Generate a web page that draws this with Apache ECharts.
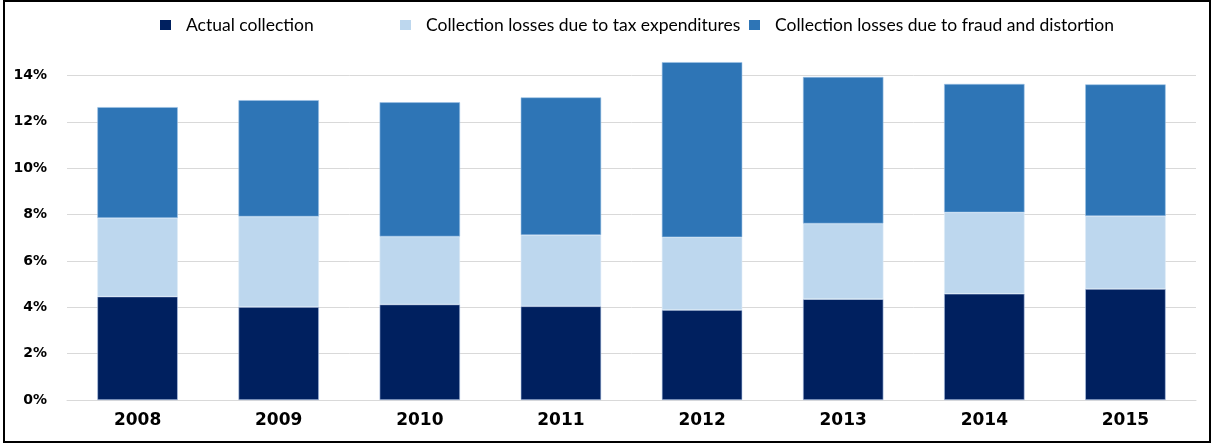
<!DOCTYPE html>
<html>
<head>
<meta charset="utf-8">
<script src="https://cdn.jsdelivr.net/npm/echarts@6/dist/echarts.min.js"></script>
<style>
  html, body { margin: 0; padding: 0; background: #fff; }
  #chart { width: 1214px; height: 445px; }
</style>
</head>
<body>
<div id="chart"></div>
<script>
// Years on the category axis
const years = ['2008', '2009', '2010', '2011', '2012', '2013', '2014', '2015'];

// Stacked shares of GDP, in percent
const actualCollection = [4.46, 4.01, 4.12, 4.04, 3.88, 4.35, 4.58, 4.79];
const taxExpenditureLosses = [3.39, 3.90, 2.93, 3.07, 3.14, 3.26, 3.51, 3.14];
const fraudDistortionLosses = [4.78, 5.02, 5.79, 5.94, 7.55, 6.32, 5.54, 5.68];

// Series names shown in the legend
const seriesNames = [
  'Actual collection',
  'Collection losses due to tax expenditures',
  'Collection losses due to fraud and distortion'
];

const colors = ['#00205F', '#BDD7EE', '#2E75B6'];

const chart = echarts.init(document.getElementById('chart'), null, { renderer: 'canvas' });

const legendBase = {
  top: 16,
  padding: 0,
  itemWidth: 11,
  itemHeight: 10,
  icon: 'rect',
  selectedMode: false,
  itemStyle: { borderWidth: 0 },
  textStyle: {
    fontFamily: 'Lato',
    fontSize: 17.5,
    color: '#000',
    padding: [2, 0, 0, 10]
  }
};

const option = {
  animation: false,
  backgroundColor: '#fff',
  color: colors,
  legend: [
    Object.assign({}, legendBase, { left: 160, data: [seriesNames[0]] }),
    Object.assign({}, legendBase, { left: 400, data: [seriesNames[1]] }),
    Object.assign({}, legendBase, { left: 749, data: [seriesNames[2]] })
  ],
  grid: { left: 67, right: 18, top: 29, bottom: 45, containLabel: false },
  xAxis: {
    type: 'category',
    data: years,
    axisLine: { show: true, lineStyle: { color: '#D9D9D9', width: 1 } },
    axisTick: { show: false },
    axisLabel: {
      margin: 12,
      fontFamily: 'DejaVu Sans',
      fontWeight: 'bold',
      fontSize: 17,
      color: '#000'
    }
  },
  yAxis: {
    type: 'value',
    min: 0,
    max: 16,
    interval: 2,
    axisLine: { show: false },
    axisTick: { show: false },
    splitLine: { show: true, showMaxLine: false, lineStyle: { color: '#D9D9D9', width: 1 } },
    axisLabel: {
      showMaxLabel: false,
      margin: 20,
      formatter: '{value}%',
      fontFamily: 'DejaVu Sans',
      fontWeight: 'bold',
      fontSize: 14,
      color: '#000'
    }
  },
  series: [
    {
      name: seriesNames[0], type: 'bar', stack: 'total', barWidth: '57%',
      data: actualCollection,
      itemStyle: { color: colors[0], borderColor: '#B4C7E7', borderWidth: 0.6 }
    },
    {
      name: seriesNames[1], type: 'bar', stack: 'total', barWidth: '57%',
      data: taxExpenditureLosses,
      itemStyle: { color: colors[1], borderColor: '#DEEBF7', borderWidth: 0.6 }
    },
    {
      name: seriesNames[2], type: 'bar', stack: 'total', barWidth: '57%',
      data: fraudDistortionLosses,
      itemStyle: { color: colors[2], borderColor: '#9DC3E6', borderWidth: 0.6 }
    }
  ],
  graphic: [
    {
      type: 'rect',
      silent: true,
      shape: { x: 4, y: 1, width: 1206, height: 441 },
      style: { fill: 'none', stroke: '#000', lineWidth: 2 }
    }
  ]
};

chart.setOption(option);
</script>
</body>
</html>
